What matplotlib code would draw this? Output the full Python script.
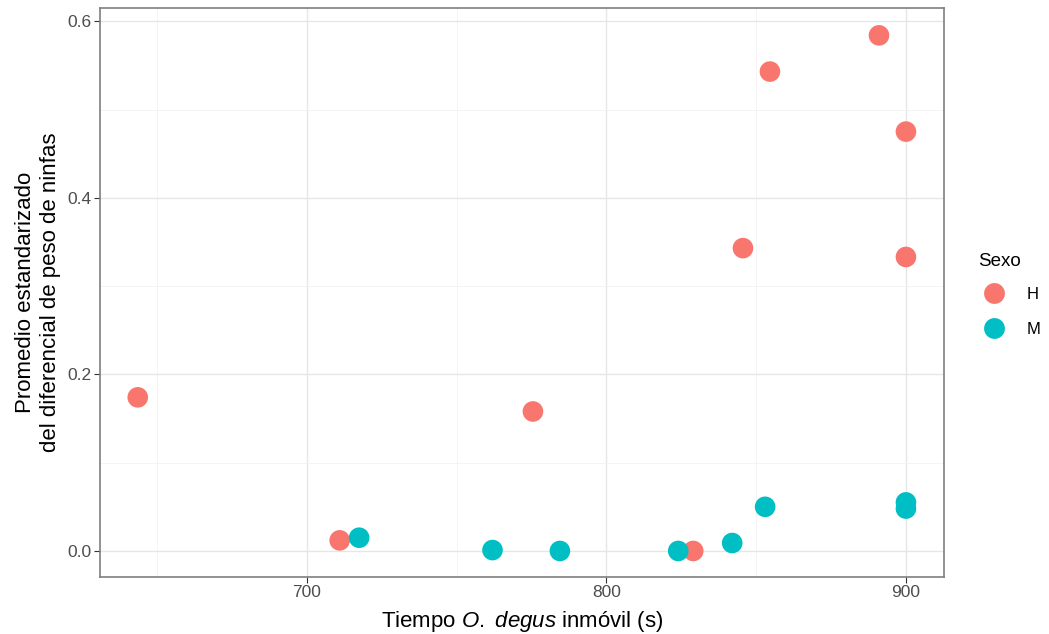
import numpy as np
import matplotlib
matplotlib.use('Agg')
import matplotlib.pyplot as plt
from matplotlib.ticker import MultipleLocator
from matplotlib.lines import Line2D

plt.rcParams['font.family'] = ['Liberation Sans', 'DejaVu Sans']
plt.rcParams['mathtext.fontset'] = 'custom'
plt.rcParams['mathtext.rm'] = 'Liberation Sans'
plt.rcParams['mathtext.it'] = 'Liberation Sans:italic'

# Data
h_tiempo = [643.6, 711.0, 775.5, 829.0, 845.6, 854.6, 891.0, 900.0, 900.0]
h_peso = [0.174, 0.012, 0.158, 0.000, 0.343, 0.543, 0.584, 0.475, 0.333]
m_tiempo = [717.5, 762.0, 784.5, 824.0, 842.0, 853.0, 900.0, 900.0]
m_peso = [0.015, 0.001, 0.000, 0.000, 0.009, 0.050, 0.055, 0.048]
grupos = ['H', 'M']
colores = ['#F8766D', '#00BFC4']

fig = plt.figure(figsize=(10.49, 6.34), dpi=100)
ax = fig.add_axes([100/1049, 1-577/634, 844/1049, 569/634])

for xs, ys, c in [(h_tiempo, h_peso, colores[0]), (m_tiempo, m_peso, colores[1])]:
    ax.scatter(xs, ys, s=220, color=c, edgecolors='none', zorder=3)

ax.set_xlim(631, 912.7)
ax.set_ylim(-0.0295, 0.615)
ax.xaxis.set_major_locator(MultipleLocator(100))
ax.xaxis.set_minor_locator(MultipleLocator(50))
ax.yaxis.set_major_locator(MultipleLocator(0.2))
ax.yaxis.set_minor_locator(MultipleLocator(0.1))
ax.yaxis.set_major_formatter(matplotlib.ticker.FormatStrFormatter('%.1f'))
ax.grid(which='major', color='#E6E6E6', linewidth=1.0, zorder=0)
ax.grid(which='minor', color='#F2F2F2', linewidth=0.6, zorder=0)
ax.set_axisbelow(True)
for s in ax.spines.values():
    s.set_color('#7F7F7F')
    s.set_linewidth(1.2)
ax.tick_params(which='major', length=4, color='#333333', labelsize=12.5, labelcolor='#4D4D4D', pad=2)
ax.tick_params(which='minor', length=0)

ax.set_xlabel(r'Tiempo $\it{O.\ degus}$ inmóvil (s)', fontsize=16, color='black', labelpad=6)
ax.set_ylabel('Promedio estandarizado\ndel diferencial de peso de ninfas', fontsize=16,
              color='black', labelpad=5, linespacing=1.2)

handles = [Line2D([], [], marker='o', linestyle='none', markersize=15, markerfacecolor=c,
                  markeredgecolor='none') for c in colores]
leg = fig.legend(handles, grupos, title='Sexo', loc='center left', bbox_to_anchor=(0.926, 0.535),
                 frameon=False, fontsize=12, title_fontsize=13.5, handletextpad=1.0,
                 labelspacing=1.2, borderaxespad=0, handlelength=1.9)
leg._legend_box.align = 'left'
leg._legend_box.sep = 12

fig.savefig('out.png', dpi=100)
